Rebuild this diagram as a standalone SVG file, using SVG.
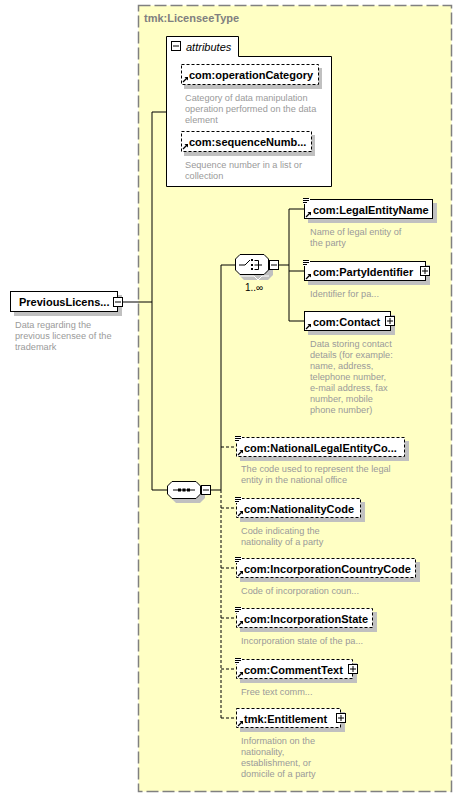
<svg xmlns="http://www.w3.org/2000/svg" width="462" height="796" viewBox="0 0 462 796">
<style>
.lbl{font-family:"Liberation Sans",Arial,sans-serif;font-size:11px;font-weight:bold;fill:#000}
.desc{font-family:"Liberation Sans",Arial,sans-serif;font-size:9.2px;fill:#9a9a9a}
.box{fill:#fff;stroke:#000;stroke-width:1}
.opt{fill:#fff;stroke:#000;stroke-width:1;stroke-dasharray:3,2}
.shd{fill:#c0c0c0}
.ln{stroke:#000;stroke-width:1;fill:none}
.dln{stroke:#000;stroke-width:1;fill:none;stroke-dasharray:3,2}
.btn{fill:#fff;stroke:#000;stroke-width:1}
</style>
<defs>
<g id="plus"><rect class="btn" x="0.5" y="0.5" width="9" height="9"/><path class="ln" d="M2,5H8M5,2V8"/></g>
<g id="minus"><rect class="btn" x="0.5" y="0.5" width="9" height="9"/><path class="ln" d="M2,5H8"/></g>
<g id="ref"><path d="M1,7L5,3" stroke="#000" stroke-width="1.3"/><path d="M2.5,2H6V5.5Z" fill="#000"/></g>
<g id="simple"><rect x="-2" y="-3" width="7" height="6" fill="#fff"/><path d="M-2,-2.5H4M-2,-0.5H4M-2,1.5H2" stroke="#000" stroke-width="1"/></g>
</defs>

<g id="type-box">
<rect x="138.5" y="5.5" width="313" height="786" fill="#ffffc4" stroke="#808080" stroke-width="1.5" stroke-dasharray="12,4"/>
<text x="144" y="22" class="lbl" fill="#808080" style="fill:#808080">tmk:LicenseeType</text>
</g>

<g id="connectors">
<path class="ln" d="M123,302H152M152,112V490M152,112H166M152,490H167M211,490H221M221,265V490M221,265H235M279,265H289M289,209V321M289,209H304M289,271H304M289,321H304"/>
<path class="dln" d="M221,490V718M221,447H236M221,508H236M221,568H236M221,618H236M221,669H236M221,718H236"/>
</g>

<g id="PreviousLicensee">
<rect class="shd" x="14" y="295" width="108" height="21"/>
<rect class="box" x="10.5" y="291.5" width="107" height="20"/>
<text x="19" y="306" class="lbl">PreviousLicens...</text>
<use href="#minus" x="113" y="297"/>
<text class="desc"><tspan x="15" y="328">Data regarding the</tspan><tspan x="15" y="339">previous licensee of the</tspan><tspan x="15" y="350">trademark</tspan></text>
</g>

<g id="attributes">
<path d="M166.5,36.5H238.5V56.5H331.5V186.5H166.5Z" fill="#fff" stroke="#000"/>
<use href="#minus" x="171" y="41"/>
<text x="186" y="51" font-family="Liberation Sans,Arial,sans-serif" font-size="11" font-style="italic">attributes</text>
</g>

<g id="operationCategory">
<rect class="shd" x="184" y="68" width="138" height="21"/>
<rect class="opt" x="181.5" y="64.5" width="137" height="20"/>
<use href="#ref" x="182" y="75"/>
<text x="189" y="79" class="lbl">com:operationCategory</text>
<text class="desc"><tspan x="185" y="101">Category of data manipulation</tspan><tspan x="185" y="112">operation performed on the data</tspan><tspan x="185" y="123">element</tspan></text>
</g>

<g id="sequenceNumber">
<rect class="shd" x="184" y="135" width="131" height="21"/>
<rect class="opt" x="181.5" y="131.5" width="130" height="20"/>
<use href="#ref" x="182" y="142"/>
<text x="189" y="146" class="lbl">com:sequenceNumb...</text>
<text class="desc"><tspan x="185" y="168">Sequence number in a list or</tspan><tspan x="185" y="179">collection</tspan></text>
</g>

<g id="sequence">
<polygon class="shd" points="176,485 200,485 205,490 205,498 200,503 176,503 171,498 171,490"/>
<polygon class="box" points="172,481.5 196,481.5 200.5,486 200.5,494 196,498.5 172,498.5 167.5,494 167.5,486"/>
<path class="ln" d="M173,490H195"/>
<rect x="178" y="488.5" width="3" height="3" fill="#000"/><rect x="182.5" y="488.5" width="3" height="3" fill="#000"/><rect x="187" y="488.5" width="3" height="3" fill="#000"/>
<use href="#minus" x="201" y="485"/>
</g>

<g id="choice">
<polygon class="shd" points="244,259 268,259 273,264 273,275 268,280 244,280 239,275 239,264"/>
<polyline points="239,276 254,276 258,280 262,276 269,276" fill="none" stroke="#fff" stroke-width="1"/>
<polygon class="box" points="240,254.5 264,254.5 268.5,259 268.5,270 264,274.5 240,274.5 235.5,270 235.5,259"/>
<path class="ln" d="M239,265H245L250,260"/>
<rect x="251" y="259" width="2" height="2" fill="#000"/><rect x="251" y="264" width="2" height="2" fill="#000"/><rect x="251" y="268" width="2" height="2" fill="#000"/>
<path class="ln" d="M254.5,260.5H258.5V269.5H254.5M254.5,265H262"/>
<use href="#minus" x="269" y="260"/>
<text x="245" y="291" font-family="Liberation Sans,Arial,sans-serif" font-size="10">1..∞</text>
</g>

<g id="LegalEntityName">
<rect class="shd" x="308" y="203" width="129" height="20"/>
<rect class="box" x="304.5" y="199.5" width="128" height="19"/>
<use href="#simple" x="305" y="201"/>
<use href="#ref" x="305" y="210"/>
<text x="313" y="214" class="lbl">com:LegalEntityName</text>
<text class="desc"><tspan x="310" y="235">Name of legal entity of</tspan><tspan x="310" y="246">the party</tspan></text>
</g>

<g id="PartyIdentifier">
<rect class="shd" x="308" y="265" width="122" height="20"/>
<rect class="box" x="304.5" y="261.5" width="121" height="19"/>
<use href="#simple" x="305" y="263"/>
<use href="#ref" x="305" y="272"/>
<text x="313" y="276" class="lbl">com:PartyIdentifier</text>
<use href="#plus" x="420" y="266"/>
<text class="desc"><tspan x="310" y="297">Identifier for pa...</tspan></text>
</g>

<g id="Contact">
<rect class="shd" x="308" y="315" width="87" height="20"/>
<rect class="box" x="304.5" y="311.5" width="86" height="19"/>
<use href="#ref" x="305" y="322"/>
<text x="313" y="326" class="lbl">com:Contact</text>
<use href="#plus" x="385" y="316"/>
<text class="desc"><tspan x="310" y="347">Data storing contact</tspan><tspan x="310" y="358">details (for example:</tspan><tspan x="310" y="369">name, address,</tspan><tspan x="310" y="380">telephone number,</tspan><tspan x="310" y="391">e-mail address, fax</tspan><tspan x="310" y="402">number, mobile</tspan><tspan x="310" y="413">phone number)</tspan></text>
</g>

<g id="NationalLegalEntityCode">
<rect class="shd" x="240" y="441" width="169" height="20"/>
<rect class="opt" x="236.5" y="437.5" width="168" height="19"/>
<use href="#simple" x="237" y="439"/>
<use href="#ref" x="237" y="448"/>
<text x="244" y="452" class="lbl">com:NationalLegalEntityCo...</text>
<text class="desc"><tspan x="241" y="472">The code used to represent the legal</tspan><tspan x="241" y="483">entity in the national office</tspan></text>
</g>

<g id="NationalityCode">
<rect class="shd" x="240" y="502" width="125" height="20"/>
<rect class="opt" x="236.5" y="498.5" width="124" height="19"/>
<use href="#simple" x="237" y="500"/>
<use href="#ref" x="237" y="509"/>
<text x="244" y="513" class="lbl">com:NationalityCode</text>
<text class="desc"><tspan x="241" y="534">Code indicating the</tspan><tspan x="241" y="545">nationality of a party</tspan></text>
</g>

<g id="IncorporationCountryCode">
<rect class="shd" x="240" y="562" width="180" height="20"/>
<rect class="opt" x="236.5" y="558.5" width="179" height="19"/>
<use href="#simple" x="237" y="560"/>
<use href="#ref" x="237" y="569"/>
<text x="244" y="573" class="lbl">com:IncorporationCountryCode</text>
<text class="desc"><tspan x="241" y="594">Code of incorporation coun...</tspan></text>
</g>

<g id="IncorporationState">
<rect class="shd" x="240" y="612" width="137" height="20"/>
<rect class="opt" x="236.5" y="608.5" width="136" height="19"/>
<use href="#simple" x="237" y="610"/>
<use href="#ref" x="237" y="619"/>
<text x="244" y="623" class="lbl">com:IncorporationState</text>
<text class="desc"><tspan x="241" y="644">Incorporation state of the pa...</tspan></text>
</g>

<g id="CommentText">
<rect class="shd" x="240" y="663" width="117" height="20"/>
<rect class="opt" x="236.5" y="659.5" width="116" height="19"/>
<use href="#simple" x="237" y="661"/>
<use href="#ref" x="237" y="670"/>
<text x="244" y="674" class="lbl">com:CommentText</text>
<use href="#plus" x="348" y="664"/>
<text class="desc"><tspan x="241" y="695">Free text comm...</tspan></text>
</g>

<g id="Entitlement">
<rect class="shd" x="240" y="712" width="105" height="20"/>
<rect class="opt" x="236.5" y="708.5" width="104" height="19"/>
<use href="#ref" x="237" y="719"/>
<text x="244" y="723" class="lbl">tmk:Entitlement</text>
<use href="#plus" x="336" y="713"/>
<text class="desc"><tspan x="241" y="744">Information on the</tspan><tspan x="241" y="755">nationality,</tspan><tspan x="241" y="766">establishment, or</tspan><tspan x="241" y="777">domicile of a party</tspan></text>
</g>
</svg>
